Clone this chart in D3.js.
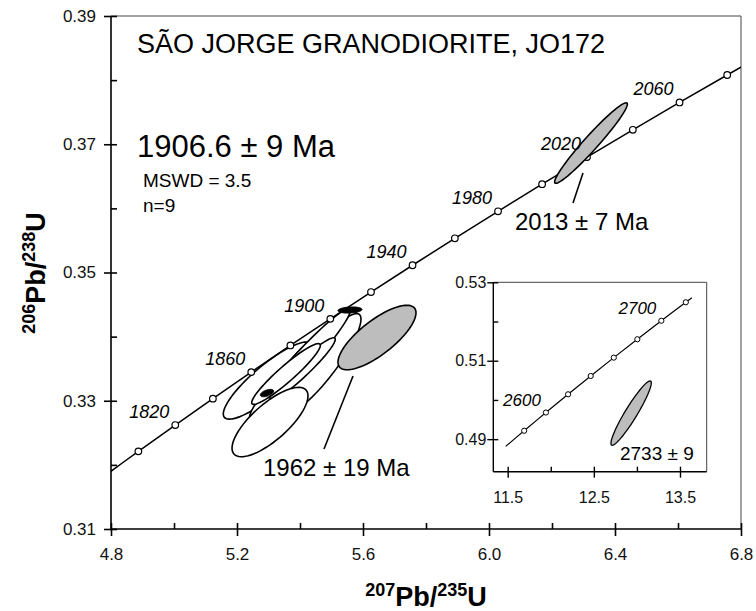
<!DOCTYPE html>
<html>
<head>
<meta charset="utf-8">
<script src="https://cdnjs.cloudflare.com/ajax/libs/d3/7.8.5/d3.min.js"></script>
<style>
  body { margin: 0; background: #fff; }
  svg { font-family: "Liberation Sans", Arial, sans-serif; }
</style>
</head>
<body>
<div id="chart"></div>
<script>
// Concordia points (age in Ma, 207Pb/235U, 206Pb/238U) for the main plot
var mainAges  = [1780, 1800, 1820, 1840, 1860, 1880, 1900, 1920, 1940, 1960, 1980, 2000, 2020, 2040, 2060, 2080, 2100];
var main207   = [4.7721, 4.8869, 5.0040, 5.1234, 5.2452, 5.3695, 5.4962, 5.6254, 5.7572, 5.8916, 6.0287, 6.1685, 6.3111, 6.4566, 6.6049, 6.7562, 6.9105];
var main206   = [0.31801, 0.32211, 0.32621, 0.33033, 0.33447, 0.33862, 0.34277, 0.34695, 0.35113, 0.35533, 0.35954, 0.36377, 0.36800, 0.37225, 0.37652, 0.38080, 0.38509];
var mainLabelAges = [1820, 1860, 1900, 1940, 1980, 2020, 2060];

// Concordia points for the inset
var insetAges = [2563, 2580, 2600, 2620, 2640, 2660, 2680, 2700, 2720, 2725];
var inset207  = [11.477, 11.6913, 11.9437, 12.2012, 12.4638, 12.7316, 13.0048, 13.2834, 13.5675, 13.638];
var inset206  = [0.48815, 0.49215, 0.49679, 0.50144, 0.50611, 0.51079, 0.51548, 0.52019, 0.52491, 0.52606];
var insetLabelAges = [2600, 2700];

// Analyses: 207/235, half-width, 206/238, half-width, rho
var whiteSpots = [
  [5.2984, 0.1419, 0.33315, 0.00602, 0.864],
  [5.4286, 0.1509, 0.33643, 0.00764, 0.926],
  [5.4714, 0.1222, 0.33588, 0.00772, 0.886],
  [5.4000, 0.1598, 0.33580, 0.00855, 0.967],
  [5.4079, 0.1041, 0.33495, 0.00488, 0.950],
  [5.3556, 0.1089, 0.33417, 0.00474, 0.940],
  [5.3048, 0.1206, 0.32668, 0.00541, 0.753]
];
var blackSpots = [
  [5.5587, 0.0381, 0.34415, 0.000477, 0.19],
  [5.2952, 0.0211, 0.33120, 0.000577, 0.52]
];
var graySpots = [
  [5.6444, 0.1239, 0.33986, 0.00503, 0.765],
  [6.3238, 0.1155, 0.37019, 0.00628, 0.966]
];
var insetSpots = [
  [12.9327, 0.2342, 0.49664, 0.00821, 0.938]
];

var mainXTicks = [4.8, 5.2, 5.6, 6.0, 6.4, 6.8];
var mainXMinor = [5.0, 5.4, 5.8, 6.2, 6.6];
var mainYTicks = [0.31, 0.33, 0.35, 0.37, 0.39];
var mainYMinor = [0.32, 0.34, 0.36, 0.38];
var insetXTicks = [11.5, 12.5, 13.5];
var insetXMinor = [12.0, 13.0];
var insetYTicks = [0.49, 0.51, 0.53];
var insetYMinor = [0.50, 0.52];

var svg = d3.select('#chart').append('svg').attr('width', 756).attr('height', 611);

var x = d3.scaleLinear().domain([4.8, 6.8]).range([111, 741]);
var y = d3.scaleLinear().domain([0.31, 0.39]).range([529, 16]);
var ix = d3.scaleLinear().domain([11.333, 13.81]).range([493.3, 706.7]);
var iy = d3.scaleLinear().domain([0.4817, 0.53]).range([471.7, 282.3]);

function zipCurve(ages, a, b) {
  return ages.map(function(t, i) { return {age: t, x: a[i], y: b[i]}; });
}
var mainCurve = zipCurve(mainAges, main207, main206);
var insetCurve = zipCurve(insetAges, inset207, inset206);

function ellipse(d, sx, sy) {
  var pts = d3.range(0, 72).map(function(k) {
    var t = k / 72 * 2 * Math.PI;
    var px = d[0] + d[1] * Math.cos(t);
    var py = d[2] + d[3] * (d[4] * Math.cos(t) + Math.sqrt(1 - d[4] * d[4]) * Math.sin(t));
    return [sx(px), sy(py)];
  });
  return d3.line().curve(d3.curveLinearClosed)(pts);
}

function drawAxes(g, sx, sy, xt, xm, yt, ym, fx, fy, opt) {
  var r = sx.range(), h = sy.range();
  // frame top and right
  g.append('path').attr('d', 'M' + r[0] + ',' + h[1] + 'H' + r[1] + 'V' + h[0])
    .attr('fill', 'none').attr('stroke', '#444').attr('stroke-width', 1);
  var bx = g.append('g').attr('transform', 'translate(0,' + h[0] + ')');
  bx.call(d3.axisBottom(sx).tickValues(xt).tickSize(opt.out).tickFormat(d3.format(fx)));
  bx.append('g').call(d3.axisBottom(sx).tickValues(xt.concat(xm)).tickSize(-opt.inn).tickFormat(''));
  bx.selectAll('text').attr('y', opt.xlab).attr('dy', 0).style('font-size', opt.font + 'px');
  var ly = g.append('g').attr('transform', 'translate(' + r[0] + ',0)');
  ly.call(d3.axisLeft(sy).tickValues(yt).tickSize(opt.out).tickFormat(d3.format(fy)));
  ly.append('g').call(d3.axisLeft(sy).tickValues(yt.concat(ym)).tickSize(-opt.inn).tickFormat(''));
  ly.selectAll('text').attr('x', -opt.ylab).style('font-size', opt.font + 'px');
  g.selectAll('.domain').attr('stroke-width', opt.lw).attr('d', null);
  g.selectAll('.tick line').attr('stroke-width', opt.lw);
  g.selectAll('.tick text').attr('fill', '#111').style('font-family', '"Liberation Sans", Arial, sans-serif');
  g.append('line').attr('x1', r[0]).attr('x2', r[1]).attr('y1', h[0]).attr('y2', h[0])
    .attr('stroke', '#000').attr('stroke-width', opt.lw);
  g.append('line').attr('x1', r[0]).attr('x2', r[0]).attr('y1', h[0]).attr('y2', h[1])
    .attr('stroke', '#000').attr('stroke-width', opt.lw);
}

// ---------- main plot ----------
var main = svg.append('g');
drawAxes(main, x, y, mainXTicks, mainXMinor, mainYTicks, mainYMinor, '.1f', '.2f',
  {out: 7, inn: 6, xlab: 31, ylab: 15, font: 17, lw: 1.6});

svg.append('clipPath').attr('id', 'clipMain').append('rect')
  .attr('x', 111).attr('y', 16).attr('width', 630).attr('height', 513);

var plot = main.append('g').attr('clip-path', 'url(#clipMain)');

plot.selectAll('path.white').data(whiteSpots).enter().append('path')
  .attr('class', 'white')
  .attr('d', function(d) { return ellipse(d, x, y); })
  .attr('fill', '#fff').attr('stroke', '#000').attr('stroke-width', 1.6);

plot.append('path').datum(mainCurve)
  .attr('d', d3.line().x(function(d) { return x(d.x); }).y(function(d) { return y(d.y); }).curve(d3.curveCatmullRom))
  .attr('fill', 'none').attr('stroke', '#000').attr('stroke-width', 1.5);

plot.selectAll('circle.m').data(mainCurve.filter(function(d) { return d.age >= 1800 && d.age <= 2080; }))
  .enter().append('circle').attr('class', 'm')
  .attr('cx', function(d) { return x(d.x); }).attr('cy', function(d) { return y(d.y); })
  .attr('r', 3.3).attr('fill', '#fff').attr('stroke', '#000').attr('stroke-width', 1.2);

plot.selectAll('path.black').data(blackSpots).enter().append('path')
  .attr('class', 'black')
  .attr('d', function(d) { return ellipse(d, x, y); })
  .attr('fill', '#000').attr('stroke', '#000').attr('stroke-width', 1);

plot.selectAll('path.gray').data(graySpots).enter().append('path')
  .attr('class', 'gray')
  .attr('d', function(d) { return ellipse(d, x, y); })
  .attr('fill', '#bdbdbd').attr('stroke', '#000').attr('stroke-width', 1.6);

main.selectAll('text.age').data(mainCurve.filter(function(d) { return mainLabelAges.indexOf(d.age) >= 0; }))
  .enter().append('text').attr('class', 'age')
  .attr('x', function(d) { return x(d.x) - 6; }).attr('y', function(d) { return y(d.y) - 7; })
  .attr('text-anchor', 'end').style('font-size', '18px').style('font-style', 'italic')
  .text(function(d) { return d.age; });

// leader lines
main.append('line').attr('x1', x(6.2667)).attr('y1', y(0.36084)).attr('x2', x(6.2984)).attr('y2', y(0.36551))
  .attr('stroke', '#000').attr('stroke-width', 1.6);
main.append('line').attr('x1', x(5.5683)).attr('y1', y(0.33386)).attr('x2', x(5.4762)).attr('y2', y(0.32247))
  .attr('stroke', '#000').attr('stroke-width', 1.6);

main.append('text').attr('x', 515).attr('y', 230).style('font-size', '24px').text('2013 ± 7 Ma');
main.append('text').attr('x', 263).attr('y', 476).style('font-size', '24px').text('1962 ± 19 Ma');

main.append('text').attr('x', 137).attr('y', 53).style('font-size', '27px').text('SÃO JORGE GRANODIORITE, JO172');
main.append('text').attr('x', 137).attr('y', 157).style('font-size', '31px').text('1906.6 ± 9 Ma');
main.append('text').attr('x', 143).attr('y', 187).style('font-size', '19px').text('MSWD = 3.5');
main.append('text').attr('x', 143).attr('y', 212).style('font-size', '19px').text('n=9');

// axis titles
function isoTitle(t, sup1, sup2) {
  t.style('font-weight', 'bold');
  t.append('tspan').style('font-size', '18px').attr('dy', -10).text(sup1);
  t.append('tspan').style('font-size', '27px').attr('dy', 10).text('Pb/');
  t.append('tspan').style('font-size', '18px').attr('dy', -10).text(sup2);
  t.append('tspan').style('font-size', '27px').attr('dy', 10).text('U');
}
isoTitle(svg.append('text').attr('x', 426).attr('y', 606).attr('text-anchor', 'middle'), '207', '235');
isoTitle(svg.append('text').attr('transform', 'translate(45,273) rotate(-90)').attr('text-anchor', 'middle'), '206', '238');

// ---------- inset ----------
var inset = svg.append('g');
inset.append('rect').attr('x', 493.3).attr('y', 282.3).attr('width', 213.4).attr('height', 189.4).attr('fill', '#fff');
drawAxes(inset, ix, iy, insetXTicks, insetXMinor, insetYTicks, insetYMinor, '.1f', '.2f',
  {out: 6, inn: 5, xlab: 31, ylab: 7, font: 16, lw: 1.4});

inset.append('path').datum(insetCurve)
  .attr('d', d3.line().x(function(d) { return ix(d.x); }).y(function(d) { return iy(d.y); }).curve(d3.curveCatmullRom))
  .attr('fill', 'none').attr('stroke', '#000').attr('stroke-width', 1.2);

inset.selectAll('circle.i').data(insetCurve.filter(function(d) { return d.age % 20 === 0; }))
  .enter().append('circle').attr('class', 'i')
  .attr('cx', function(d) { return ix(d.x); }).attr('cy', function(d) { return iy(d.y); })
  .attr('r', 2.6).attr('fill', '#fff').attr('stroke', '#000').attr('stroke-width', 1);

inset.selectAll('text.age').data(insetCurve.filter(function(d) { return insetLabelAges.indexOf(d.age) >= 0; }))
  .enter().append('text').attr('class', 'age')
  .attr('x', function(d) { return ix(d.x) - 5; }).attr('y', function(d) { return iy(d.y) - 7; })
  .attr('text-anchor', 'end').style('font-size', '17px').style('font-style', 'italic')
  .text(function(d) { return d.age; });

inset.selectAll('path.gray').data(insetSpots).enter().append('path')
  .attr('class', 'gray')
  .attr('d', function(d) { return ellipse(d, ix, iy); })
  .attr('fill', '#bdbdbd').attr('stroke', '#000').attr('stroke-width', 1.3);

inset.append('text').attr('x', ix(12.803)).attr('y', iy(0.48464)).style('font-size', '19px').text('2733 ± 9');
</script>
</body>
</html>
